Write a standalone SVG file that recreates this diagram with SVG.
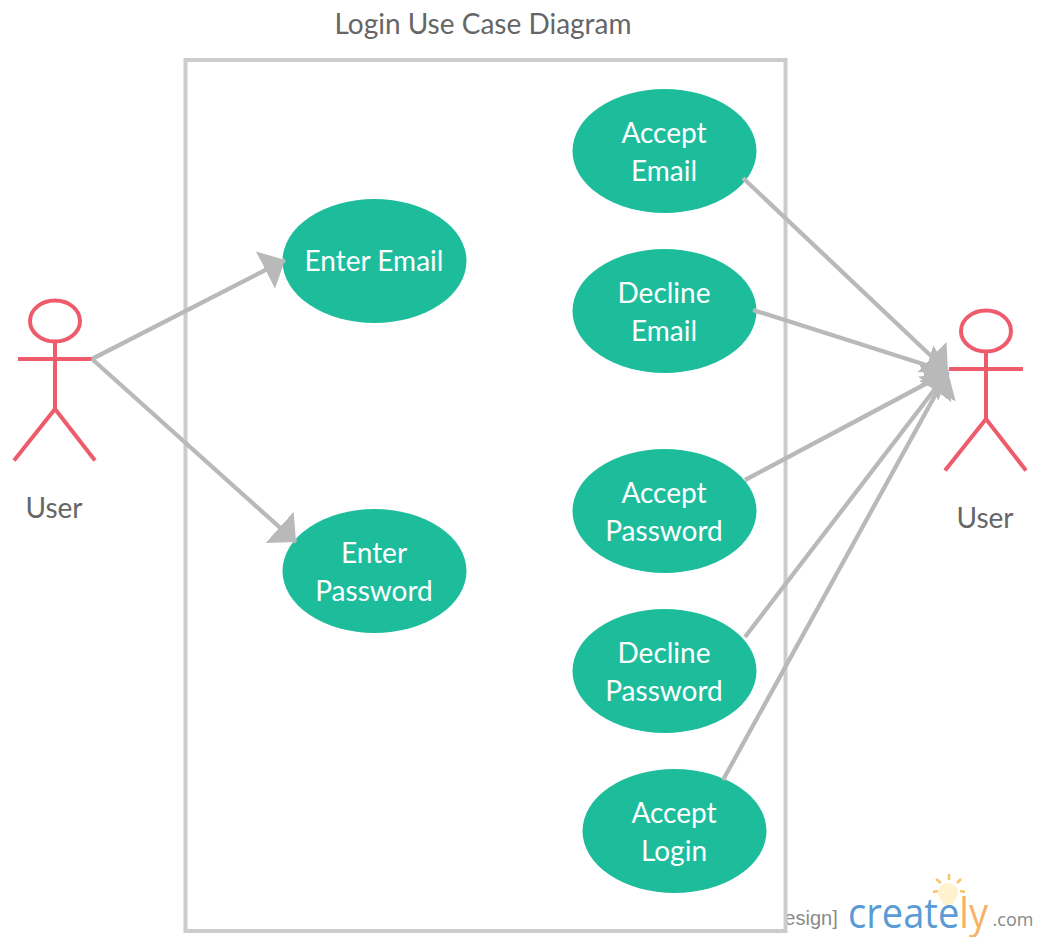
<svg xmlns="http://www.w3.org/2000/svg" width="1037" height="937" viewBox="0 0 1037 937">
<style>
text{font-family:Lato,"Open Sans","Liberation Sans",sans-serif;text-anchor:middle}
.uc{fill:#1dbd9c}
.ut{fill:#fff;font-size:28px}
.lb{fill:#666;font-size:28px}
.act{fill:none;stroke:#ee5c6c;stroke-width:4}
.c{fill:none;stroke:#b9b9b9;stroke-width:4.300;marker-end:url(#ah)}
</style>
<defs>
<marker id="ah" markerUnits="userSpaceOnUse" markerWidth="24" markerHeight="44" refX="22" refY="21" orient="auto" viewBox="0 0 24 44"><path d="M0,0L22,21L0,42Z" fill="#b9b9b9"/></marker>
<g id="fig"><ellipse cx="0" cy="22" rx="25" ry="20.500" class="act"/><path class="act" d="M0,43V110M-37,60H37M0,110L-41,161.500M0,110L40,161.500"/></g>
</defs>
<rect width="1037" height="937" fill="#fff"/>
<g id="watermark">
<text x="811" y="925" fill="#8a8a8a" font-size="20" style="font-family:'Liberation Sans',sans-serif">esign]</text>
<path d="M948,883a10,10 0 0 1 6,18l-1,4h-10l-1,-4a10,10 0 0 1 6,-18z" fill="#fff3cf"/>
<path d="M949,874v6M936,879l5,4M961,879l-4,4M933,892l5,-1M965,892l-5,-1" stroke="#f7c469" stroke-width="2.500" fill="none"/>
<text x="848" y="928" font-size="42" textLength="140" lengthAdjust="spacingAndGlyphs" style="text-anchor:start;font-family:'Open Sans',sans-serif" fill="#5b9bd5">create<tspan fill="#f7b267">ly</tspan></text>
<text x="1013" y="926" fill="#7f8c8d" font-size="18" style="font-family:'Open Sans',sans-serif">.com</text>
</g>
<g id="boundary"><rect x="185.500" y="60" width="600" height="871" fill="none" stroke="#cccccc" stroke-width="4"/><text class="lb" x="483" y="34">Login Use Case Diagram</text></g>
<g id="actor-left"><use href="#fig" x="55" y="299"/><text class="lb" x="54" y="518">User</text></g>
<g id="actor-right"><use href="#fig" x="986" y="309"/><text class="lb" x="985" y="528">User</text></g>
<g id="enter-email"><ellipse class="uc" cx="374.500" cy="261" rx="92" ry="62"/><text class="ut" x="374" y="271">Enter Email</text></g>
<g id="enter-password"><ellipse class="uc" cx="374.500" cy="571" rx="92" ry="62"/><text class="ut" x="374" y="563">Enter</text><text class="ut" x="374" y="601">Password</text></g>
<g id="accept-email"><ellipse class="uc" cx="664.500" cy="151" rx="92" ry="62"/><text class="ut" x="664" y="143">Accept</text><text class="ut" x="664" y="181">Email</text></g>
<g id="decline-email"><ellipse class="uc" cx="664.500" cy="311" rx="92" ry="62"/><text class="ut" x="664" y="303">Decline</text><text class="ut" x="664" y="341">Email</text></g>
<g id="accept-password"><ellipse class="uc" cx="664.500" cy="511" rx="92" ry="62"/><text class="ut" x="664" y="503">Accept</text><text class="ut" x="664" y="541">Password</text></g>
<g id="decline-password"><ellipse class="uc" cx="664.500" cy="671" rx="92" ry="62"/><text class="ut" x="664" y="663">Decline</text><text class="ut" x="664" y="701">Password</text></g>
<g id="accept-login"><ellipse class="uc" cx="674.500" cy="831" rx="92" ry="62"/><text class="ut" x="674" y="823">Accept</text><text class="ut" x="674" y="861">Login</text></g>
<g id="connectors">
<line class="c" x1="92" y1="359" x2="285" y2="260"/>
<line class="c" x1="92" y1="359" x2="296" y2="542"/>
<line class="c" x1="743" y1="178" x2="948" y2="372"/>
<line class="c" x1="753" y1="310" x2="948" y2="372"/>
<line class="c" x1="745" y1="480" x2="948" y2="372"/>
<line class="c" x1="745" y1="637" x2="948" y2="372"/>
<line class="c" x1="723" y1="780" x2="948" y2="372"/>
</g>
</svg>
